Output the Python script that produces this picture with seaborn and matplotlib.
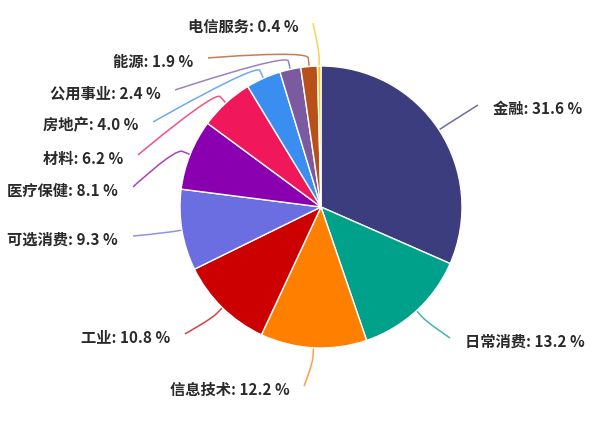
import numpy as np
import seaborn as sns
import matplotlib.pyplot as plt
from matplotlib.path import Path
from matplotlib.patches import PathPatch

sns.set_theme(style="white")
plt.rcParams['font.family'] = ['Noto Sans CJK SC', 'DejaVu Sans']

sectors = ['金融', '日常消费', '信息技术', '工业', '可选消费', '医疗保健',
           '材料', '房地产', '公用事业', '能源', '电信服务']
weights = [31.6, 13.2, 12.2, 10.8, 9.3, 8.1, 6.2, 4.0, 2.4, 1.9, 0.4]
colors = ['#3b3d7e', '#00a18a', '#ff7f00', '#cc0000', '#6b6ee0', '#8a00b0',
          '#f0175a', '#3a8ef0', '#7b5aa0', '#b8501a', '#f5c518']

# where each leader line ends (pie radius = 1)
label_end = [(1.113, 0.723), (0.915, -0.929), (-0.12, -1.27), (-0.965, -0.90),
             (-1.333, -0.206), (-1.333, 0.142), (-1.298, 0.369), (-1.191, 0.603),
             (-1.035, 0.830), (-0.801, 1.057), (-0.057, 1.305)]

fig = plt.figure(figsize=(6, 4.28), dpi=100)
ax = fig.add_axes([0, 0, 1, 1])
wedges, _ = ax.pie(weights, colors=colors, startangle=90, counterclock=False,
                   radius=1, wedgeprops=dict(edgecolor='white', linewidth=1))

for w, name, val, col, (lx, ly) in zip(wedges, sectors, weights, colors, label_end):
    ang = np.deg2rad((w.theta1 + w.theta2) / 2)
    ex, ey = np.cos(ang), np.sin(ang)
    bx, by = 1.06 * ex, 1.06 * ey
    verts = [(lx, ly), (lx, ly), (2 * bx - ex, 2 * by - ey), (bx, by), (ex, ey)]
    codes = [Path.MOVETO, Path.CURVE4, Path.CURVE4, Path.CURVE4, Path.LINETO]
    ax.add_patch(PathPatch(Path(verts, codes), fill=False, edgecolor=col,
                           linewidth=1.1, alpha=0.75, zorder=0))
    right = lx > 0
    tx = lx + 0.105 if right else lx - 0.105
    ax.text(tx, ly - 0.025, f"{name}: {val} %", ha='left' if right else 'right',
            va='center', fontsize=11, fontweight='bold', color='#2a2a2a')

ax.set_xlim(-321 / 141, 279 / 141)
ax.set_ylim((207 - 428) / 141, 207 / 141)
ax.set_aspect('equal')
ax.axis('off')
fig.savefig('out.png', dpi=100)
